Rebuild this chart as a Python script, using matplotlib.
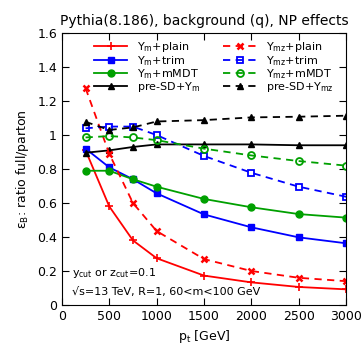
import matplotlib
matplotlib.use("Agg")
import matplotlib.pyplot as plt

pt = [250, 500, 750, 1000, 1500, 2000, 2500, 3000]

ym_plain = [0.91, 0.58, 0.38, 0.275, 0.173, 0.133, 0.106, 0.092]
ym_trim = [0.92, 0.81, 0.74, 0.657, 0.533, 0.457, 0.398, 0.363]
ym_mmdt = [0.79, 0.79, 0.74, 0.696, 0.624, 0.575, 0.535, 0.514]
presd_ym = [0.896, 0.91, 0.93, 0.945, 0.945, 0.945, 0.94, 0.94]

ymz_plain = [1.276, 0.89, 0.60, 0.435, 0.27, 0.20, 0.16, 0.14]
ymz_trim = [1.04, 1.05, 1.05, 1.0, 0.877, 0.778, 0.696, 0.637]
ymz_mmdt = [0.986, 0.994, 0.986, 0.97, 0.92, 0.88, 0.847, 0.82]
presd_ymz = [1.078, 1.03, 1.045, 1.08, 1.088, 1.104, 1.108, 1.114]

plt.rcParams['font.size'] = 9

fig = plt.figure(figsize=(3.64, 3.45), dpi=100)
ax = fig.add_axes([0.170, 0.116, 0.781, 0.788])

lw = 1.3
ms = 5
green = '#00a000'
dash = (0, (4, 3))

# solid lines: Y_m
ax.plot(pt, ym_plain, color='red', marker='+', ms=6, mew=1.2, lw=lw, label='Y$_\\mathregular{m}$+plain')
ax.plot(pt, ym_trim, color='blue', marker='s', ms=ms, lw=lw, label='Y$_\\mathregular{m}$+trim')
ax.plot(pt, ym_mmdt, color=green, marker='o', ms=ms, lw=lw, label='Y$_\\mathregular{m}$+mMDT')
ax.plot(pt, presd_ym, color='black', marker='^', ms=ms, lw=lw, label='pre-SD+Y$_\\mathregular{m}$')

# dashed lines: Y_mz
ax.plot(pt, ymz_plain, color='red', ls=dash, marker='x', ms=5, mew=1.8, lw=lw, label='Y$_\\mathregular{mz}$+plain')
ax.plot(pt, ymz_trim, color='blue', ls=dash, marker='s', mfc='none', ms=ms, mew=1.3, lw=lw, label='Y$_\\mathregular{mz}$+trim')
ax.plot(pt, ymz_mmdt, color=green, ls=dash, marker='o', mfc='none', ms=ms, mew=1.3, lw=lw, label='Y$_\\mathregular{mz}$+mMDT')
ax.plot(pt, presd_ymz, color='black', ls=dash, marker='^', ms=ms, lw=lw, label='pre-SD+Y$_\\mathregular{mz}$')

ax.set_xlim(0, 3000)
ax.set_ylim(0, 1.6)
ax.set_xticks([0, 500, 1000, 1500, 2000, 2500, 3000])
ax.set_yticks([0, 0.2, 0.4, 0.6, 0.8, 1.0, 1.2, 1.4, 1.6])
ax.set_yticklabels(['0', '0.2', '0.4', '0.6', '0.8', '1', '1.2', '1.4', '1.6'])
ax.tick_params(direction='in', top=True, right=True, length=5)

ax.set_xlabel('p$_\\mathregular{t}$ [GeV]')
ax.set_ylabel('ε$_\\mathregular{B}$: ratio full/parton')
ax.set_title('Pythia(8.186), background (q), NP effects', fontsize=10)

ax.text(0.035, 0.105, 'y$_\\mathregular{cut}$ or z$_\\mathregular{cut}$=0.1', transform=ax.transAxes, fontsize=8)
ax.text(0.035, 0.035, '√s=13 TeV, R=1, 60<m<100 GeV', transform=ax.transAxes, fontsize=8)

ax.legend(ncol=2, loc='upper center', bbox_to_anchor=(0.535, 1.0), frameon=False,
          handlelength=3.0, columnspacing=2.0, labelspacing=-0.05, handletextpad=0.9,
          borderaxespad=0.25, fontsize=8)

fig.savefig('out.png', dpi=100)
